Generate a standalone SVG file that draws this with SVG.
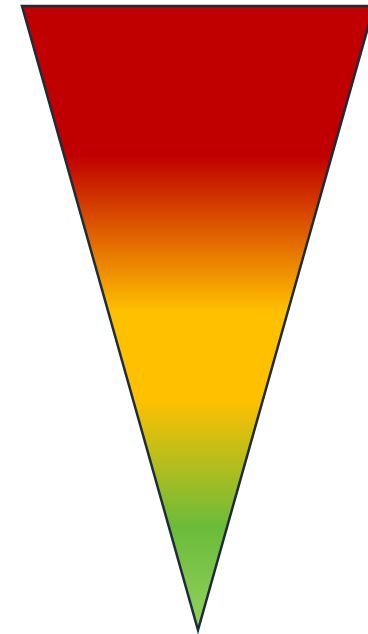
<svg xmlns="http://www.w3.org/2000/svg" width="368" height="634" viewBox="0 0 368 634">
<defs>
<linearGradient id="g" gradientUnits="userSpaceOnUse" x1="0" y1="6" x2="0" y2="630">
<stop offset="0" stop-color="#C00000"/>
<stop offset="0.24" stop-color="#C00000"/>
<stop offset="0.49" stop-color="#FFC000"/>
<stop offset="0.63" stop-color="#FFC000"/>
<stop offset="0.835" stop-color="#6BBB3A"/>
<stop offset="1" stop-color="#92D25E"/>
</linearGradient>
</defs>
<g id="funnel">
<polygon points="22,6 374,6 198,630" fill="url(#g)" stroke="#1E2B38" stroke-width="2.5" stroke-linejoin="miter"/>
</g>
</svg>
